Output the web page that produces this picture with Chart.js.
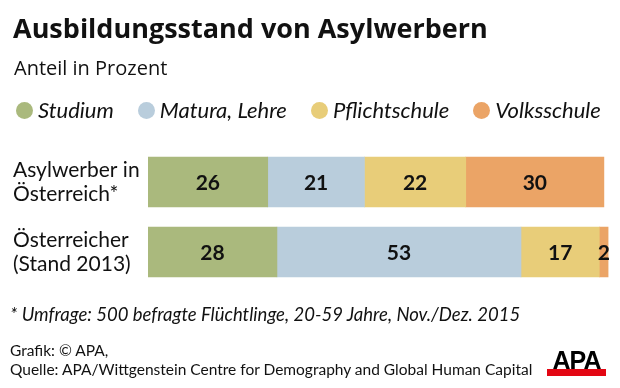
<!DOCTYPE html>
<html>
<head>
<meta charset="utf-8">
<script src="https://cdn.jsdelivr.net/npm/chart.js@4"></script>
<style>
  html, body { margin: 0; padding: 0; background: #fff; }
  body { width: 620px; height: 388px; position: relative; overflow: hidden; font-family: Lato, sans-serif; color: #111; }
  #chart { position: absolute; left: 0; top: 0; }
  .t { position: absolute; white-space: nowrap; line-height: 1; }
  #title { left: 13px; top: 13.5px; font-family: "Open Sans", sans-serif; font-size: 27px; font-weight: 700; }
  #subtitle { left: 14px; top: 57.5px; font-family: "Open Sans", sans-serif; font-size: 20px; }
  #legend { position: absolute; left: 16px; top: 98px; width: 620px; height: 24px; display: flex; align-items: center; white-space: nowrap; }
  .li { display: flex; align-items: center; flex-shrink: 0; white-space: nowrap; margin-right: 24px; font-style: italic; font-size: 22px; line-height: 24px; }
  .dot { width: 17px; height: 17px; flex-shrink: 0; border-radius: 50%; margin-right: 5px; }
  #foot { left: 10px; top: 305px; font-size: 18.5px; font-style: italic; }
  #src { left: 10px; top: 341px; font-size: 15.5px; line-height: 19px; white-space: nowrap; position: absolute; }
  #logo { position: absolute; left: 547px; top: 349px; width: 59px; height: 27px; }
  #logo .txt { position: absolute; left: 0; top: 0; width: 59px; text-align: center; font-family: "Liberation Sans", Arial, sans-serif; font-weight: 700; font-size: 25px; line-height: 22px; letter-spacing: -1px; color: #000; }
  #logo .bar { position: absolute; left: 0; top: 20px; width: 59px; height: 7px; background: #e30613; }
</style>
</head>
<body>
<canvas id="chart" width="620" height="388"></canvas>
<div id="title" class="t">Ausbildungsstand von Asylwerbern</div>
<div id="subtitle" class="t">Anteil in Prozent</div>
<div id="legend"></div>
<div id="foot" class="t">* Umfrage: 500 befragte Flüchtlinge, 20-59 Jahre, Nov./Dez. 2015</div>
<div id="src">Grafik: © APA,<br>Quelle: APA/Wittgenstein Centre for Demography and Global Human Capital</div>
<div id="logo"><div class="bar"></div><div class="txt">APA</div></div>
<script>
const categories = [['Asylwerber in', 'Österreich*'], ['Österreicher', '(Stand 2013)']];
const seriesNames = ['Studium', 'Matura, Lehre', 'Pflichtschule', 'Volksschule'];
const studium = [26, 28];
const maturaLehre = [21, 53];
const pflichtschule = [22, 17];
const volksschule = [30, 2];
const seriesColors = ['#aab97d', '#b9cddc', '#e8cd79', '#eba466'];

const seriesValues = [studium, maturaLehre, pflichtschule, volksschule];

const valueLabels = {
  id: 'valueLabels',
  afterDatasetsDraw(chart) {
    const ctx = chart.ctx;
    ctx.save();
    ctx.font = 'bold 21px Lato, sans-serif';
    ctx.fillStyle = '#111';
    ctx.textAlign = 'center';
    ctx.textBaseline = 'middle';
    chart.data.datasets.forEach((ds, i) => {
      const meta = chart.getDatasetMeta(i);
      meta.data.forEach((el, j) => {
        const cx = (el.x + el.base) / 2;
        ctx.fillText(String(ds.data[j]), cx, el.y + 1);
      });
    });
    ctx.restore();
  }
};

const chart = new Chart(document.getElementById('chart'), {
  type: 'bar',
  data: {
    labels: categories,
    datasets: seriesNames.map((name, i) => ({
      label: name,
      data: seriesValues[i],
      backgroundColor: seriesColors[i],
      borderWidth: 0,
      barThickness: 50
    }))
  },
  options: {
    indexAxis: 'y',
    responsive: false,
    animation: false,
    devicePixelRatio: 1,
    layout: { padding: { left: 13, right: 11.5, top: 147, bottom: 101 } },
    plugins: { legend: { display: false }, tooltip: { enabled: false } },
    scales: {
      x: { stacked: true, min: 0, max: 100, display: false },
      y: {
        stacked: true,
        grid: { display: false },
        border: { display: false },
        afterFit(axis) { axis.width = 135; },
        ticks: {
          crossAlign: 'far',
          color: '#111',
          font: { family: 'Lato, sans-serif', size: 21, lineHeight: 1.15 }
        }
      }
    }
  },
  plugins: [valueLabels]
});

const legendEl = document.getElementById('legend');
chart.data.datasets.forEach(ds => {
  const item = document.createElement('div');
  item.className = 'li';
  const dot = document.createElement('span');
  dot.className = 'dot';
  dot.style.background = ds.backgroundColor;
  const txt = document.createElement('span');
  txt.textContent = ds.label;
  item.appendChild(dot);
  item.appendChild(txt);
  legendEl.appendChild(item);
});
</script>
</body>
</html>
